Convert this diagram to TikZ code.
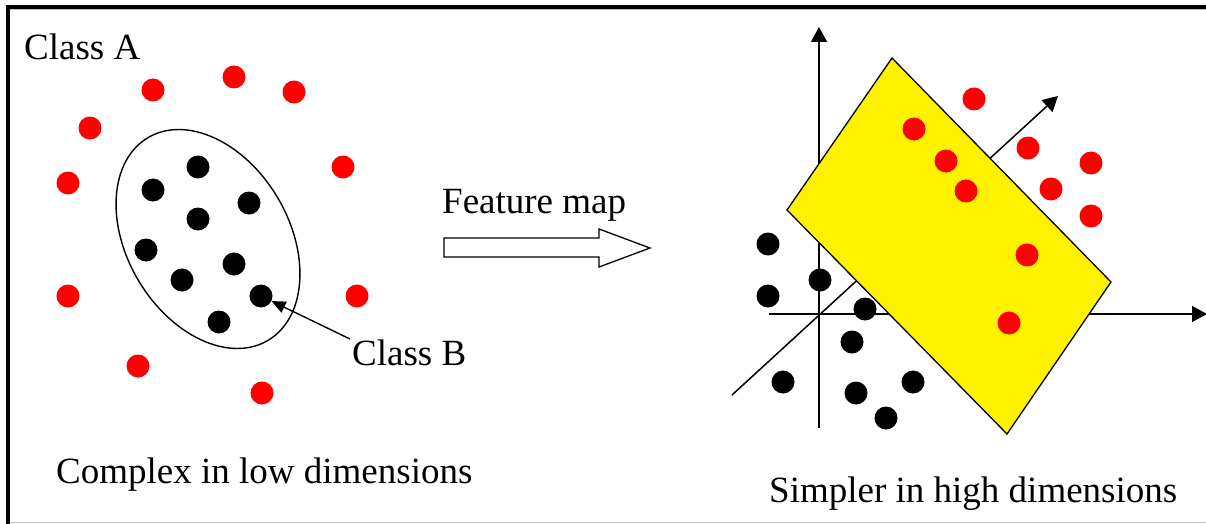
\documentclass[tikz,border=0pt]{standalone}
\usepackage{fontspec}
\setmainfont{Liberation Serif}
\usetikzlibrary{arrows.meta}
\begin{document}
\begin{tikzpicture}[x=1pt,y=1pt,
  rdot/.style={circle,fill=red,minimum size=23pt,inner sep=0pt},
  bdot/.style={circle,fill=black,minimum size=23pt,inner sep=0pt},
  lbl/.style={inner sep=0pt,anchor=base west,font=\fontsize{37}{40}\selectfont},
  axis/.style={line width=1.5pt,-{Triangle[length=15pt,width=16pt]}},
  frameline/.style={line width=3.5pt}]
\useasboundingbox (0,0) rectangle (1206,-524);
% frame
\draw[gray!50,line width=1pt] (8,-522.5) -- (1206,-522.5);
\draw[gray!50,line width=1pt] (8,-9.5) -- (1206,-9.5);
\draw[frameline] (8,-524) -- (8,-7) -- (1206,-7);
% left panel
\node[lbl] (ca) at (24,-60) {Class A};
\draw[line width=1.4pt] (208,-239) ellipse [x radius=117.8, y radius=81, rotate=-59.4];
\foreach \n/\x/\y in {1/153/90,2/234/77,3/294/92,4/90/128,5/68/183,6/343/167,7/68/296,8/357/296,9/138/366,10/262/393}
  \node[rdot] (lr\n) at (\x,-\y) {};
\foreach \n/\x/\y in {1/198/167,2/153/190,3/249/203,4/198/219,5/146/250,6/234/264,7/182/280,8/261/296,9/219/322}
  \node[bdot] (lb\n) at (\x,-\y) {};
\node[lbl] (cb) at (352,-365) {Class B};
\coordinate (cbs) at (350,-339);
\draw[line width=1.4pt,-{Triangle[length=14pt,width=12pt]}] (cbs) -- (lb8);
\node[lbl] (cx) at (56,-483) {Complex in low dimensions};
% feature map arrow
\node[lbl] (fm) at (442,-213) {Feature map};
\draw[line width=1.3pt,fill=white] (444,-238) -- (599,-238) -- (599,-229) -- (650,-248) -- (599,-267) -- (599,-257) -- (444,-257) -- cycle;
% right panel axes
\coordinate (o) at (819,-314);
\coordinate (vb) at (819,-428);
\coordinate (vt) at (819,-27);
\coordinate (hl) at (769,-314);
\coordinate (hr) at (1207,-314);
\coordinate (dl) at (732,-395);
\coordinate (dt) at (1058,-96);
\draw[axis] (vb) -- (vt);
\draw[axis] (hl) -- (hr);
\draw[axis] (dl) -- (dt);
% plane
\draw[fill=yellow,line width=1.3pt] (892,-58) -- (787,-210) -- (1007,-434) -- (1111,-282) -- cycle;
\foreach \n/\x/\y in {1/974/99,2/914/129,3/946/161,4/966/191,5/1028/148,6/1091/163,7/1051/189,8/1091/216,9/1027/255,10/1009/323}
  \node[rdot] (rr\n) at (\x,-\y) {};
\foreach \n/\x/\y in {1/768/244,2/820/280,3/768/296,4/865/309,5/852/342,6/783/382,7/856/393,8/913/382,9/886/418}
  \node[bdot] (rb\n) at (\x,-\y) {};
\node[lbl] (sx) at (769,-502) {Simpler in high dimensions};
\end{tikzpicture}
\end{document}
